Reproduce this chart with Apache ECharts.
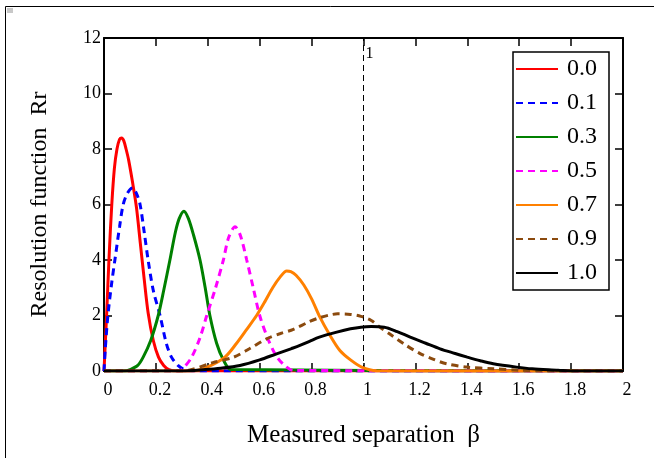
<!DOCTYPE html>
<html><head><meta charset="utf-8">
<script src="https://cdn.jsdelivr.net/npm/echarts@6/dist/echarts.min.js"></script>
<style>html,body{margin:0;padding:0;background:#fff}#c{width:654px;height:458px}</style>
</head><body><div id="c"></div>
<script>
const names = ['0.0','0.1','0.3','0.5','0.7','0.9','1.0'];
const xTicks = ['0','0.2','0.4','0.6','0.8','1','1.2','1.4','1.6','1.8','2'];
const yTicks = ['0','2','4','6','8','10','12'];

const x00 = [0,0.005,0.01,0.02,0.03,0.04,0.05,0.06,0.068,0.076,0.085,0.095,0.11,0.125,0.14,0.155,0.17,0.19,0.21,0.23,0.25,0.28,2];
const y00 = [0,1.0,2.0,4.2,6.0,7.3,8.0,8.35,8.4,8.3,8.0,7.6,6.8,5.9,4.6,3.3,2.1,1.1,0.5,0.2,0.05,0,0];

const x01 = [0,0.005,0.015,0.03,0.042,0.06,0.074,0.09,0.11,0.125,0.139,0.155,0.17,0.19,0.216,0.24,0.26,0.285,0.31,0.34,2];
const y01 = [0,0.8,2.0,3.2,4.0,5.2,6.0,6.4,6.6,6.4,6.0,5.0,4.0,2.9,2.0,1.0,0.5,0.2,0.05,0,0];

const x03 = [0,0.08,0.1,0.13,0.151,0.18,0.209,0.23,0.254,0.275,0.29,0.308,0.325,0.345,0.37,0.39,0.408,0.434,0.46,0.49,2];
const y03 = [0,0,0.05,0.2,0.5,1.1,2.0,2.9,4.0,5.0,5.5,5.76,5.5,4.9,4.0,3.0,2.0,1.0,0.4,0.05,0];

const x05 = [0,0.29,0.31,0.338,0.37,0.396,0.43,0.46,0.48,0.505,0.525,0.55,0.575,0.6,0.63,0.66,0.69,0.73,2];
const y05 = [0,0,0.15,0.5,1.2,2.0,3.0,4.0,4.8,5.2,4.9,4.0,3.0,2.0,1.2,0.6,0.25,0.02,0];

const x07 = [0,0.34,0.4,0.466,0.511,0.55,0.588,0.62,0.65,0.68,0.704,0.72,0.74,0.77,0.8,0.832,0.87,0.909,0.95,0.993,1.05,2];
const y07 = [0,0,0.15,0.5,1.0,1.5,2.0,2.5,3.0,3.4,3.6,3.58,3.45,3.1,2.6,1.94,1.3,0.74,0.4,0.14,0.01,0];

const x09 = [0,0.3,0.42,0.5,0.56,0.627,0.68,0.73,0.787,0.83,0.87,0.9,0.95,0.99,1.03,1.06,1.1,1.16,1.22,1.27,1.32,1.4,1.5,1.6,1.7,2];
const y09 = [0,0,0.3,0.5,0.8,1.16,1.35,1.5,1.76,1.92,2.02,2.06,2.04,1.97,1.82,1.6,1.34,0.95,0.62,0.42,0.26,0.14,0.08,0.03,0,0];

const x10 = [0,0.3,0.39,0.45,0.524,0.6,0.665,0.72,0.755,0.794,0.83,0.897,0.95,0.99,1.03,1.08,1.13,1.18,1.24,1.295,1.35,1.4,1.45,1.5,1.59,1.65,1.75,1.8,2];
const y10 = [0,0,0.05,0.1,0.2,0.4,0.62,0.8,0.92,1.08,1.22,1.40,1.52,1.58,1.6,1.58,1.42,1.22,1.0,0.80,0.64,0.50,0.37,0.26,0.14,0.08,0.03,0,0];

const markX = 1;

const xs = [x00,x01,x03,x05,x07,x09,x10];
const ys = [y00,y01,y03,y05,y07,y09,y10];
const colors = ['#ff0000','#0000ff','#008000','#ff00ff','#ff8000','#8b4a0e','#000000'];
const dashed = [false,true,false,true,false,true,false];

const FONT = 'Liberation Serif';
const chart = echarts.init(document.getElementById('c'), null, {renderer:'canvas'});

const series = names.map((n,i)=>({
  name:n, type:'line', xAxisIndex:0, yAxisIndex:0,
  data: xs[i].map((x,j)=>[x, ys[i][j]]),
  symbol:'none', smooth:0.3, animation:false,
  lineStyle:{color:colors[i], width:3, type: dashed[i]?[7,5]:'solid'},
  itemStyle:{color:colors[i]},
  z: 3+i
}));
series[0].markLine = {
  silent:true, symbol:['none','none'], animation:false,
  lineStyle:{color:'#000', width:1, type:[6,4]},
  label:{show:false},
  data:[{xAxis:markX}]
};

const axisCommon = {
  axisLine:{show:true, onZero:false, lineStyle:{color:'#000', width:2}},
  axisTick:{show:true, inside:true, length:8, lineStyle:{color:'#000', width:1.5}},
  splitLine:{show:false}
};

chart.setOption({
  animation:false,
  backgroundColor:'#fff',
  grid:{left:104, right:31, top:38, bottom:87, containLabel:false},
  xAxis:[
    Object.assign({type:'value', min:0, max:2, interval:0.2, position:'bottom',
      name:'Measured separation  β', nameLocation:'middle', nameGap:52,
      nameTextStyle:{fontFamily:FONT, fontSize:25, color:'#000'},
      axisLabel:{fontFamily:FONT, fontSize:18, color:'#000', margin:10, padding:[0,0,0,8],
        formatter:(v)=>{const k=Math.round(v/0.2); return xTicks[k]!==undefined?xTicks[k]:'';}}
    }, axisCommon),
    Object.assign({type:'value', min:0, max:2, interval:0.2, position:'top', axisLabel:{show:false}}, axisCommon)
  ],
  yAxis:[
    Object.assign({type:'value', min:0, max:12, interval:2, position:'left',
      name:'Resolution function  Rr', nameLocation:'middle', nameGap:52,
      nameTextStyle:{fontFamily:FONT, fontSize:24, color:'#000'},
      axisLabel:{fontFamily:FONT, fontSize:18, color:'#000', margin:3, padding:[7,0,0,0],
        formatter:(v)=>{const k=Math.round(v/2); return yTicks[k]!==undefined?yTicks[k]:'';}}
    }, axisCommon),
    Object.assign({type:'value', min:0, max:12, interval:2, position:'right', axisLabel:{show:false}}, axisCommon)
  ],
  legend:{
    orient:'vertical', left:513, top:52, padding:[5,12,5,2], itemGap:10,
    itemWidth:42, itemHeight:14, borderColor:'#000', borderWidth:1.5,
    backgroundColor:'#fff',
    itemStyle:{color:'rgba(0,0,0,0)', borderWidth:0, opacity:0},
    textStyle:{fontFamily:FONT, fontSize:24, color:'#000', lineHeight:22, padding:[0,0,0,4]},
    data:names
  },
  series: series
});

const p = chart.convertToPixel({xAxisIndex:0, yAxisIndex:0}, [markX, 12]);
chart.setOption({
  graphic:[
    {type:'rect', shape:{x:5.5, y:6.5, width:700, height:500}, style:{fill:'none', stroke:'#000', lineWidth:1}, silent:true, z:-1},
    {type:'rect', shape:{x:7, y:8, width:6, height:5}, style:{fill:'#c8c8c8'}, silent:true},
    {type:'text', x:p[0]+2, y:p[1]+8, style:{text:'1', font:'16px "Liberation Serif"', fill:'#000'}, silent:true, z:10}
  ]
});
</script></body></html>
